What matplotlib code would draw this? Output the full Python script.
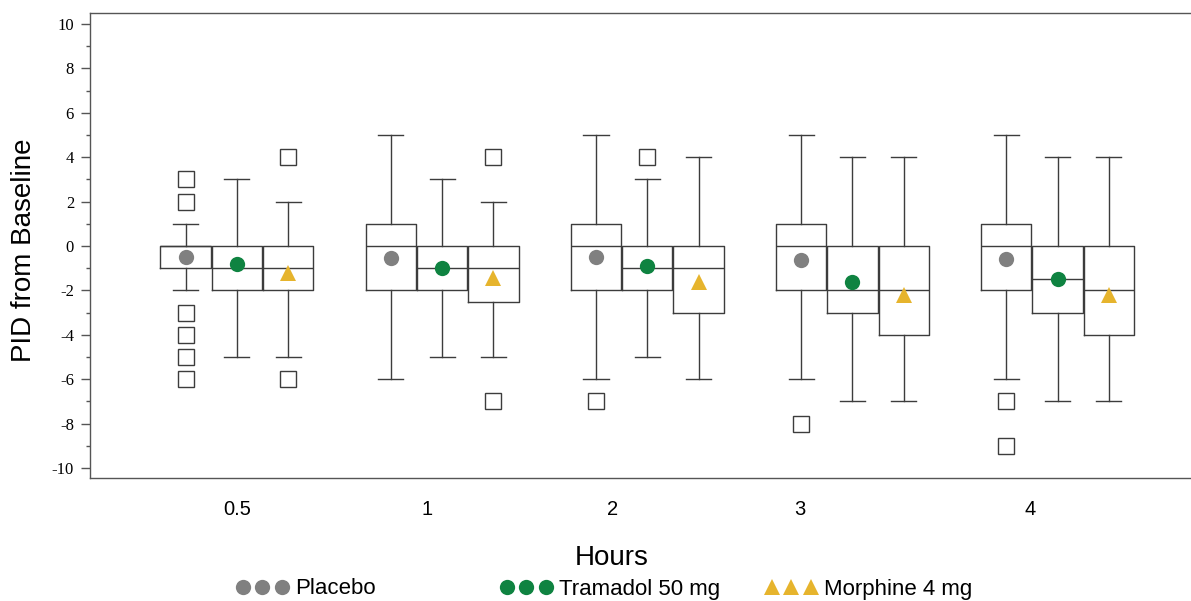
import matplotlib.pyplot as plt
from matplotlib.lines import Line2D
import numpy as np

hours = ['0.5', '1', '2', '3', '4']
treatments = ['Placebo', 'Tramadol 50 mg', 'Morphine 4 mg']

# box summaries per time point: lower whisker, Q1, median, Q3, upper whisker, mean, outliers
placebo_lo = [-2, -6, -6, -6, -6]
placebo_q1 = [-1, -2, -2, -2, -2]
placebo_med = [0, 0, 0, 0, 0]
placebo_q3 = [0, 1, 1, 1, 1]
placebo_hi = [1, 5, 5, 5, 5]
placebo_mean = [-0.5, -0.55, -0.5, -0.65, -0.6]
placebo_out = [[3, 2, -3, -4, -5, -6], [], [-7], [-8], [-7, -9]]

tramadol_lo = [-5, -5, -5, -7, -7]
tramadol_q1 = [-2, -2, -2, -3, -3]
tramadol_med = [-1, -1, -1, -2, -1.5]
tramadol_q3 = [0, 0, 0, 0, 0]
tramadol_hi = [3, 3, 3, 4, 4]
tramadol_mean = [-0.8, -1.0, -0.9, -1.6, -1.5]
tramadol_out = [[], [], [4], [], []]

morphine_lo = [-5, -5, -6, -7, -7]
morphine_q1 = [-2, -2.5, -3, -4, -4]
morphine_med = [-1, -1, -1, -2, -2]
morphine_q3 = [0, 0, 0, 0, 0]
morphine_hi = [2, 2, 4, 4, 4]
morphine_mean = [-1.2, -1.45, -1.6, -2.2, -2.2]
morphine_out = [[4, -6], [4, -7], [], [], []]

series = [
    (placebo_lo, placebo_q1, placebo_med, placebo_q3, placebo_hi, placebo_mean, placebo_out),
    (tramadol_lo, tramadol_q1, tramadol_med, tramadol_q3, tramadol_hi, tramadol_mean, tramadol_out),
    (morphine_lo, morphine_q1, morphine_med, morphine_q3, morphine_hi, morphine_mean, morphine_out),
]
colors = ['#808080', '#0f8341', '#e6b42d']
markers = ['o', 'o', '^']

SANS = 'Liberation Sans'
SERIF = 'Liberation Serif'
EDGE = '#3c3c3c'

fig = plt.figure(figsize=(11.91, 6.01), dpi=100)
ax = fig.add_axes([90 / 1191, 1 - 478 / 601, 1101 / 1191, 465 / 601])

group_x = np.arange(len(hours))
offsets = [-0.25, 0.0, 0.25]
box_w = 0.245

for k, (lo, q1, med, q3, hi, mean, out) in enumerate(series):
    stats = []
    for i in range(len(hours)):
        stats.append(dict(whislo=lo[i], q1=q1[i], med=med[i], q3=q3[i],
                          whishi=hi[i], fliers=out[i], mean=mean[i]))
    pos = group_x + offsets[k]
    ax.bxp(stats, positions=pos, widths=box_w, showmeans=False,
           boxprops=dict(color=EDGE, linewidth=1),
           medianprops=dict(color=EDGE, linewidth=1),
           whiskerprops=dict(color=EDGE, linewidth=1),
           capprops=dict(color=EDGE, linewidth=1),
           capwidths=box_w * 0.5,
           flierprops=dict(marker='s', markersize=11, markerfacecolor='white',
                           markeredgecolor=EDGE, markeredgewidth=1, linestyle='none'))
    ax.plot(pos, mean, linestyle='none', marker=markers[k], markersize=11,
            color=colors[k], markeredgewidth=0, zorder=4)

ax.set_xlim(-0.716, 4.65)
ax.set_ylim(-10.45, 10.5)

# time labels sit a little off the group centres
ax.set_xticks([0.0, 0.927, 1.832, 2.744, 3.865])
ax.set_xticklabels(hours, fontfamily=SANS, fontsize=14.5)
ax.tick_params(axis='x', length=0, pad=16)

ax.set_yticks(np.arange(-10, 11, 2))
ax.set_yticks(np.arange(-9, 10, 2), minor=True)
ax.set_yticklabels([str(v) for v in range(-10, 11, 2)], fontfamily=SERIF, fontsize=12)
ax.tick_params(axis='y', which='major', length=6.5, width=1, color='#555555', pad=5)
ax.tick_params(axis='y', which='minor', length=3, width=1, color='#555555')

for side in ['left', 'top', 'bottom']:
    ax.spines[side].set_color('#555555')
    ax.spines[side].set_linewidth(1)
ax.spines['right'].set_visible(False)

ax.set_ylabel('PID from Baseline', fontfamily=SANS, fontsize=20)
ax.yaxis.set_label_coords(-0.048, 0.49)

fig.text(612 / 1191, 1 - 558 / 601, 'Hours', fontfamily=SANS, fontsize=20,
         ha='center', va='center')

# legend: three markers per entry, each entry placed on its own
legend_x = [236, 500, 765]
for k, name in enumerate(treatments):
    h = Line2D([], [], linestyle='none', marker=markers[k], markersize=11,
               color=colors[k], markeredgewidth=0)
    fig.legend([h], [name], loc='center left', numpoints=3, frameon=False,
               bbox_to_anchor=(legend_x[k] / 1191, 1 - 589 / 601),
               borderpad=0, borderaxespad=0, handlelength=2.36, handletextpad=0.3,
               prop={'family': SANS, 'size': 16})

fig.savefig('out.png', dpi=100)
